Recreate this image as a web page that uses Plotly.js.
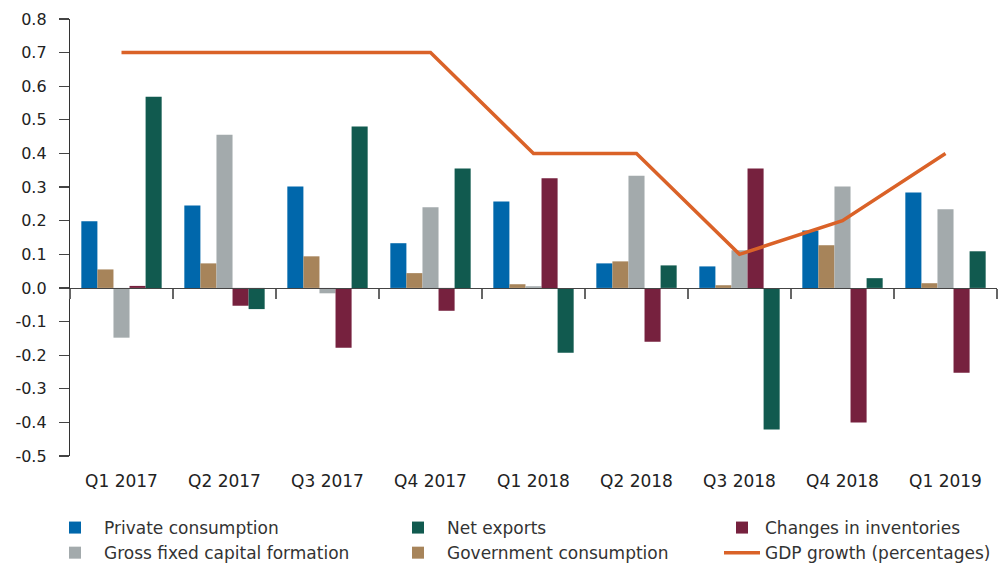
<!DOCTYPE html>
<html>
<head>
<meta charset="utf-8">
<script src="https://cdn.plot.ly/plotly-3.0.1.min.js"></script>
<style>html,body{margin:0;padding:0;background:#fff;}#chart{width:1008px;height:563px;}</style>
</head>
<body>
<div id="chart"></div>
<script>
const quarters = ["Q1 2017","Q2 2017","Q3 2017","Q4 2017","Q1 2018","Q2 2018","Q3 2018","Q4 2018","Q1 2019"];
const privateConsumption = [0.198, 0.245, 0.302, 0.133, 0.257, 0.073, 0.064, 0.171, 0.284];
const governmentConsumption = [0.055, 0.073, 0.094, 0.044, 0.011, 0.079, 0.008, 0.127, 0.014];
const grossFixedCapital = [-0.148, 0.456, -0.016, 0.240, 0.005, 0.334, 0.112, 0.302, 0.234];
const changesInventories = [0.006, -0.053, -0.178, -0.068, 0.326, -0.160, 0.355, -0.400, -0.252];
const netExports = [0.569, -0.063, 0.480, 0.355, -0.193, 0.067, -0.421, 0.029, 0.109];
const gdpGrowth = [0.7, 0.7, 0.7, 0.7, 0.4, 0.4, 0.1, 0.2, 0.4];
const yTickValues = [0.8, 0.7, 0.6, 0.5, 0.4, 0.3, 0.2, 0.1, 0.0, -0.1, -0.2, -0.3, -0.4, -0.5];
const yTickLabels = ["0.8","0.7","0.6","0.5","0.4","0.3","0.2","0.1","0.0","-0.1","-0.2","-0.3","-0.4","-0.5"];

const FONT = "DejaVu Sans, sans-serif";

const traces = [
  {type:"bar", name:"Private consumption", x:quarters, y:privateConsumption, marker:{color:"#0067AB"}, legend:"legend"},
  {type:"bar", name:"Government consumption", x:quarters, y:governmentConsumption, marker:{color:"#A7845A"}, legend:"legend2", legendrank:2},
  {type:"bar", name:"Gross fixed capital formation", x:quarters, y:grossFixedCapital, marker:{color:"#A3AAAC"}, legend:"legend"},
  {type:"bar", name:"Changes in inventories", x:quarters, y:changesInventories, marker:{color:"#76213E"}, legend:"legend3"},
  {type:"bar", name:"Net exports", x:quarters, y:netExports, marker:{color:"#115A4F"}, legend:"legend2", legendrank:1},
  {type:"scatter", mode:"lines", name:"GDP growth (percentages)", x:quarters, y:gdpGrowth, xaxis:"x2", yaxis:"y",
   line:{color:"#DA6228", width:3.5}, legend:"legend3"}
];

const legendBase = {orientation:"v", yanchor:"top", xanchor:"left", y:-0.1236, bgcolor:"rgba(0,0,0,0)",
  font:{family:FONT, size:17, color:"#333"}, traceorder:"normal", tracegroupgap:0, itemwidth:48};

const layout = {
  width:1008, height:563,
  margin:{l:70, r:11, t:19, b:107, autoexpand:false},
  paper_bgcolor:"#fff", plot_bgcolor:"#fff",
  font:{family:FONT, size:16, color:"#222"},
  barmode:"group", bargap:0.22, bargroupgap:0,
  xaxis:{type:"category", range:[-0.5,8.5], showline:false, showgrid:false, zeroline:false,
    ticks:"outside", ticklen:10, tickcolor:"rgba(0,0,0,0)", tickfont:{family:FONT, size:17, color:"#222"}},
  xaxis2:{type:"category", overlaying:"x", anchor:"free", position:0.5/1.3, range:[-0.5,8.5],
    showline:true, linecolor:"#444", linewidth:1.5, showgrid:false, zeroline:false,
    ticks:"outside", tickson:"boundaries", ticklen:10, tickcolor:"#666", tickwidth:1.5, showticklabels:false},
  yaxis:{range:[-0.5,0.8], tickmode:"array", tickvals:yTickValues, ticktext:yTickLabels,
    showline:true, linecolor:"#333", linewidth:1.2, ticklabelstandoff:9,
    ticks:"outside", ticklen:10, tickcolor:"#444", tickwidth:1.2, showgrid:false, zeroline:false,
    tickfont:{family:FONT, size:16, color:"#222"}},
  showlegend:true,
  legend:Object.assign({}, legendBase, {x:(46-70)/927}),
  legend2:Object.assign({}, legendBase, {x:(389-70)/927}),
  legend3:Object.assign({}, legendBase, {x:(719-70)/927, itemwidth:36})
};

Plotly.newPlot("chart", traces, layout, {displayModeBar:false, staticPlot:true});
</script>
</body>
</html>
